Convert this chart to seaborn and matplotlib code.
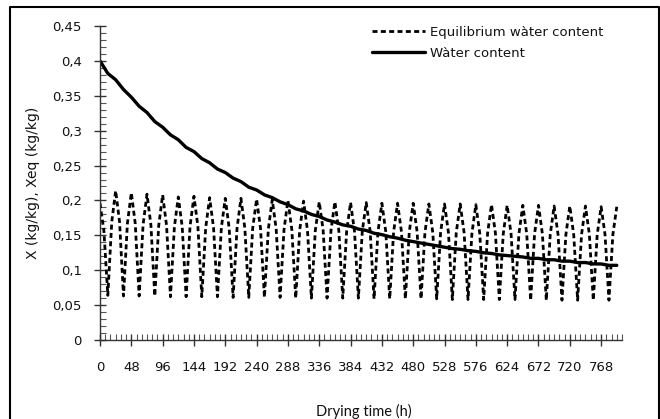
import numpy as np
import pandas as pd
import matplotlib
matplotlib.use("Agg")
import matplotlib.pyplot as plt
from matplotlib.lines import Line2D
from matplotlib.ticker import MultipleLocator
import seaborn as sns

# ---------------- data ----------------
# Equilibrium water content: daily cycle sampled every 6 h
# peak at 24k h, falling mid at 24k+6, trough at 24k+12, rising mid at 24k+18
eq_peak = [0.196, 0.214, 0.211, 0.209, 0.208, 0.205, 0.206, 0.204, 0.203, 0.203,
           0.202, 0.201, 0.200, 0.199, 0.198, 0.198, 0.197, 0.197, 0.196, 0.196,
           0.196, 0.195, 0.195, 0.195, 0.194, 0.194, 0.193, 0.193, 0.193, 0.192,
           0.192, 0.192, 0.191, 0.191]
eq_fall = [0.156, 0.169, 0.167, 0.165, 0.164, 0.162, 0.163, 0.161, 0.160, 0.160,
           0.160, 0.159, 0.158, 0.157, 0.157, 0.157, 0.156, 0.156, 0.155, 0.155,
           0.155, 0.154, 0.154, 0.154, 0.153, 0.153, 0.152, 0.152, 0.152, 0.151,
           0.151, 0.151, 0.151]
eq_trough = [0.064, 0.063, 0.063, 0.063, 0.062, 0.062, 0.062, 0.062, 0.061, 0.061,
             0.061, 0.061, 0.060, 0.060, 0.060, 0.060, 0.060, 0.059, 0.059, 0.059,
             0.059, 0.059, 0.058, 0.058, 0.058, 0.058, 0.058, 0.057, 0.057, 0.057,
             0.057, 0.057, 0.057]
eq_rise = [0.169, 0.167, 0.165, 0.164, 0.162, 0.163, 0.161, 0.161, 0.160, 0.160,
           0.159, 0.158, 0.157, 0.157, 0.157, 0.156, 0.156, 0.155, 0.155, 0.155,
           0.154, 0.154, 0.154, 0.153, 0.153, 0.152, 0.152, 0.152, 0.151, 0.151,
           0.151, 0.151, 0.151]
eq_step_h = 6

# Water content every 12 h (0 ... 792 h)
water_content = [0.400, 0.382, 0.373, 0.359, 0.348, 0.335, 0.326, 0.313, 0.305, 0.294,
                 0.287, 0.276, 0.270, 0.260, 0.254, 0.245, 0.240, 0.232, 0.227, 0.219,
                 0.215, 0.208, 0.204, 0.198, 0.194, 0.188, 0.185, 0.180, 0.177, 0.172,
                 0.169, 0.165, 0.163, 0.159, 0.157, 0.153, 0.151, 0.148, 0.146, 0.143,
                 0.141, 0.139, 0.137, 0.135, 0.133, 0.131, 0.130, 0.128, 0.127, 0.125,
                 0.124, 0.122, 0.121, 0.120, 0.119, 0.117, 0.117, 0.115, 0.115, 0.113,
                 0.113, 0.111, 0.111, 0.109, 0.109, 0.107, 0.107]
wc_step_h = 12

x_ticks = [0, 48, 96, 144, 192, 240, 288, 336, 384, 432, 480, 528, 576, 624, 672, 720, 768]
y_ticks = [0, 0.05, 0.1, 0.15, 0.2, 0.25, 0.3, 0.35, 0.4, 0.45]
y_tick_labels = ["0", "0,05", "0,1", "0,15", "0,2", "0,25", "0,3", "0,35", "0,4", "0,45"]
label_eq = "Equilibrium wàter content"
label_wc = "Wàter content"
x_label = "Drying time (h)"
y_label = "X (kg/kg), Xeq (kg/kg)"

# ---------------- tables ----------------
eq_vals = []
for k in range(len(eq_trough)):
    eq_vals += [eq_peak[k], eq_fall[k], eq_trough[k], eq_rise[k]]
eq_vals.append(eq_peak[-1])
eq_df = pd.DataFrame({"t": np.arange(len(eq_vals)) * eq_step_h, "v": eq_vals})
wc_df = pd.DataFrame({"t": np.arange(len(water_content)) * wc_step_h, "v": water_content})

# ---------------- figure ----------------
sns.set_theme(style="white")
plt.rcParams["font.family"] = ["DejaVu Sans"]

W, H = 660, 419
fig = plt.figure(figsize=(W / 100, H / 100), dpi=100)
fig.patch.set_facecolor("white")
ax = fig.add_axes([100 / W, 1 - 340 / H, 522 / W, 314 / H])
ax.set_facecolor("white")

sns.lineplot(data=eq_df, x="t", y="v", ax=ax, color="black", lw=2.0,
             linestyle=(0, (1.8, 1.2)), errorbar=None, label=label_eq)
sns.lineplot(data=wc_df, x="t", y="v", ax=ax, color="black", lw=2.4,
             errorbar=None, label=label_wc)

ax.set_xlim(0, 800)
ax.set_ylim(0, 0.45)
ax.set_xticks(x_ticks)
ax.set_yticks(y_ticks)
ax.set_yticklabels(y_tick_labels)
ax.xaxis.set_minor_locator(MultipleLocator(8))
ax.yaxis.set_minor_locator(MultipleLocator(0.01))

for s in ["top", "right"]:
    ax.spines[s].set_visible(False)
for s in ["left", "bottom"]:
    ax.spines[s].set_color("#333333")
    ax.spines[s].set_linewidth(1.0)

ax.tick_params(axis="both", which="both", bottom=True, left=True, top=False, right=False)
ax.tick_params(axis="both", which="major", direction="inout", length=8, width=1,
               color="#333333", labelsize=9.5, labelcolor="#111111")
ax.tick_params(axis="both", which="minor", direction="in", length=4, width=0.8,
               color="#555555")
ax.tick_params(axis="x", which="major", pad=11)
ax.tick_params(axis="y", which="major", pad=9)

ax.set_xlabel(x_label, fontsize=10.5, family=["Lato", "DejaVu Sans"], color="#111111", va="center")
ax.xaxis.set_label_coords(0.506, -(411 - 340) / 314)
ax.set_ylabel(y_label, fontsize=10, color="#111111", va="center")
ax.yaxis.set_label_coords(-(100 - 33) / 522, 0.5)

leg = ax.legend(loc="upper left", bbox_to_anchor=(372 / W, 1 - 26 / H),
                bbox_transform=fig.transFigure, frameon=False, fontsize=9.5,
                handlelength=4.0, handletextpad=0.4, labelspacing=0.6,
                borderpad=0, borderaxespad=0)
for t in leg.get_texts():
    t.set_color("#111111")

# outer frame (top, left, right)
fig.add_artist(Line2D([10.5 / W, 10.5 / W, 658.5 / W, 658.5 / W],
                      [0, 1 - 7.5 / H, 1 - 7.5 / H, 0],
                      transform=fig.transFigure, color="black", lw=1.5))

fig.savefig("out.png", dpi=100)
